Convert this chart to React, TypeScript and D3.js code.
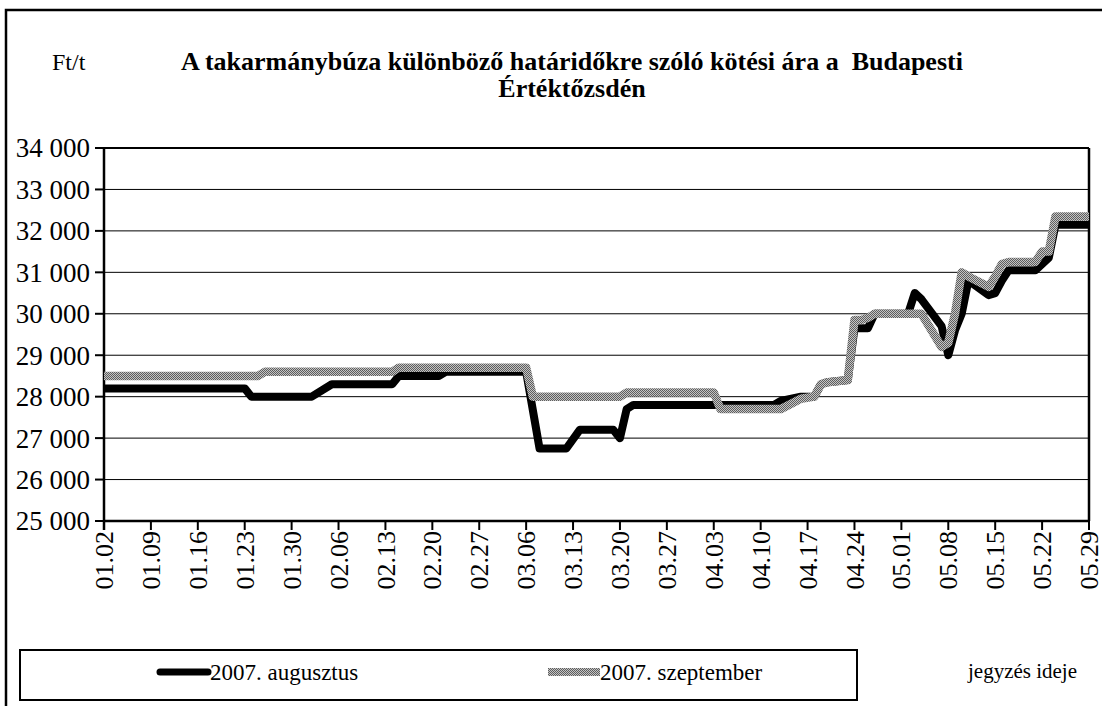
import * as d3 from "d3";

// weekly labels on the date axis
const tickLabels = [
  "01.02", "01.09", "01.16", "01.23", "01.30", "02.06", "02.13", "02.20",
  "02.27", "03.06", "03.13", "03.20", "03.27", "04.03", "04.10", "04.17",
  "04.24", "05.01", "05.08", "05.15", "05.22", "05.29",
];

const yTicks = [25000, 26000, 27000, 28000, 29000, 30000, 31000, 32000, 33000, 34000];

// 2007. augusztus (black)
const augusztus: [string, number][] = [
  ["01.02", 28200], ["01.23", 28200], ["01.24", 28000], ["02.02", 28000],
  ["02.05", 28300], ["02.14", 28300], ["02.15", 28500], ["02.21", 28500],
  ["02.22", 28600], ["03.06", 28600], ["03.08", 26750], ["03.12", 26750],
  ["03.14", 27200], ["03.19", 27200], ["03.20", 27000], ["03.21", 27700],
  ["03.22", 27800], ["04.12", 27800], ["04.13", 27900], ["04.16", 28000],
  ["04.18", 28000], ["04.19", 28300], ["04.20", 28350], ["04.23", 28400],
  ["04.24", 29650], ["04.26", 29650], ["04.27", 30000], ["05.02", 30000],
  ["05.03", 30500], ["05.04", 30350], ["05.07", 29700], ["05.08", 29000],
  ["05.09", 29600], ["05.10", 30000], ["05.11", 30800], ["05.14", 30450],
  ["05.15", 30500], ["05.16", 30800], ["05.17", 31050], ["05.21", 31050],
  ["05.22", 31200], ["05.23", 31350], ["05.24", 32150], ["05.29", 32150],
];

// 2007. szeptember (grey)
const szeptember: [string, number][] = [
  ["01.02", 28500], ["01.25", 28500], ["01.26", 28600], ["02.14", 28600],
  ["02.15", 28700], ["03.06", 28700], ["03.07", 28000], ["03.20", 28000],
  ["03.21", 28100], ["04.03", 28100], ["04.04", 27700], ["04.13", 27700],
  ["04.16", 27950], ["04.18", 28000], ["04.19", 28300], ["04.20", 28350],
  ["04.23", 28400], ["04.24", 29850], ["04.25", 29850], ["04.26", 29900],
  ["04.27", 30000], ["05.04", 30000], ["05.07", 29200], ["05.08", 29300],
  ["05.09", 30000], ["05.10", 31000], ["05.11", 30900], ["05.14", 30650],
  ["05.15", 30900], ["05.16", 31200], ["05.17", 31250], ["05.21", 31250],
  ["05.22", 31500], ["05.23", 31500], ["05.24", 32350], ["05.29", 32350],
];

const parse = (s: string) => d3.utcParse("%Y.%m.%d")("2007." + s) as Date;
const label = (v: number) => d3.format(",")(v).replace(",", " ");

export default function App() {
  const width = 1102, height = 706;
  const plot = { left: 104, right: 1089, top: 148, bottom: 521 };

  const x = d3.scaleUtc()
    .domain([parse("01.02"), parse("05.29")])
    .range([plot.left, plot.right]);
  const y = d3.scaleLinear()
    .domain([25000, 34000])
    .range([plot.bottom, plot.top]);

  const line = d3.line<[string, number]>()
    .x(d => x(parse(d[0])))
    .y(d => y(d[1]));

  return (
    <svg width={width} height={height}
      style={{ position: "absolute", left: 0, top: 0, background: "#fff" }}>
      <defs>
        <style>{`text { font-family: "Liberation Serif", "Times New Roman", Times, serif; fill: #000; }`}</style>
        <pattern id="checker" width="2" height="2" patternUnits="userSpaceOnUse">
          <rect width="2" height="2" fill="#c4c4c4" />
          <rect width="1" height="1" fill="#5e5e5e" />
          <rect x="1" y="1" width="1" height="1" fill="#5e5e5e" />
        </pattern>
      </defs>

      {/* chart frame */}
      <rect x={6} y={10} width={1110} height={720} fill="#fff" stroke="#000" strokeWidth={2.5} />

      <text x={52} y={70} fontSize={24}>Ft/t</text>
      <text x={572} y={70} fontSize={26} fontWeight="bold" textAnchor="middle"
        style={{ whiteSpace: "pre" }}>
        A takarmánybúza különböző határidőkre szóló kötési ára a  Budapesti
      </text>
      <text x={572} y={97} fontSize={26} fontWeight="bold" textAnchor="middle">Értéktőzsdén</text>

      {/* gridlines */}
      {yTicks.map(t => (
        <line key={t} x1={plot.left} x2={plot.right} y1={y(t)} y2={y(t)} stroke="#000" strokeWidth={1} />
      ))}

      {/* y axis */}
      {yTicks.map(t => (
        <g key={"y" + t}>
          <line x1={plot.left - 9} x2={plot.left} y1={y(t)} y2={y(t)} stroke="#000" strokeWidth={2} />
          <text x={90} y={y(t)} dy="0.35em" fontSize={27} textAnchor="end">{label(t)}</text>
        </g>
      ))}

      {/* x axis */}
      {tickLabels.map(t => {
        const px = x(parse(t));
        return (
          <g key={"x" + t}>
            <line x1={px} x2={px} y1={plot.bottom} y2={plot.bottom + 9} stroke="#000" strokeWidth={2} />
            <text transform={`translate(${px},${plot.bottom + 10}) rotate(-90)`}
              dy="0.35em" fontSize={26} textAnchor="end">{t}</text>
          </g>
        );
      })}

      {/* plot border */}
      <line x1={plot.left} x2={plot.right} y1={plot.top} y2={plot.top} stroke="#000" strokeWidth={2} />
      <line x1={plot.right} x2={plot.right} y1={plot.top} y2={plot.bottom} stroke="#000" strokeWidth={2.5} />
      <line x1={plot.left} x2={plot.left} y1={plot.top} y2={plot.bottom + 9} stroke="#000" strokeWidth={2.5} />
      <line x1={plot.left} x2={plot.right} y1={plot.bottom} y2={plot.bottom} stroke="#000" strokeWidth={2.5} />

      {/* series */}
      <path d={line(augusztus) ?? ""} fill="none" stroke="#000" strokeWidth={8} strokeLinejoin="round" />
      <path d={line(szeptember) ?? ""} fill="none" stroke="url(#checker)" strokeWidth={8.5} strokeLinejoin="round" />

      {/* legend */}
      <rect x={20} y={650} width={837} height={50} fill="#fff" stroke="#000" strokeWidth={2} />
      <line x1={160} x2={208} y1={672} y2={672} stroke="#000" strokeWidth={7} strokeLinecap="round" />
      <text x={210} y={680} fontSize={23}>2007. augusztus</text>
      <line x1={548} x2={600} y1={672} y2={672} stroke="url(#checker)" strokeWidth={8} />
      <text x={600} y={680} fontSize={23}>2007. szeptember</text>

      <text x={968} y={678} fontSize={21}>jegyzés ideje</text>
    </svg>
  );
}
